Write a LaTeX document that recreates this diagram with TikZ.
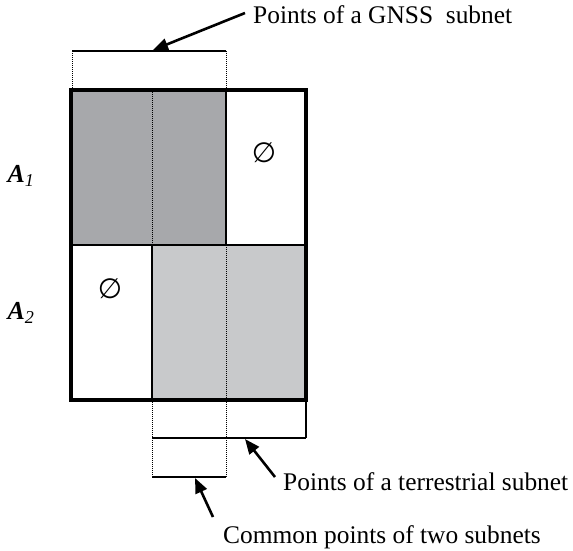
\documentclass[tikz,border=0pt]{standalone}
\usepackage{fontspec}
\setmainfont{Liberation Serif}
\newfontfamily\symfont{DejaVu Sans}
\usetikzlibrary{arrows.meta}
\definecolor{darkg}{HTML}{A7A8AB}
\definecolor{lightg}{HTML}{C8C9CB}
\begin{document}
\begin{tikzpicture}[x=1bp,y=-1bp,
  thickbox/.style={line width=3.5bp},
  inner/.style={line width=2.3bp},
  dots/.style={line width=1bp,densely dotted},
  thin/.style={line width=1.2bp},
  pointer/.style={line width=2.6bp,-{Triangle[length=15bp,width=12bp]}},
  lbl/.style={font=\fontsize{25.5}{30}\selectfont,inner sep=0pt},
  esym/.style={font=\symfont\fontsize{28}{32}\selectfont,inner sep=0pt},
  alab/.style={font=\fontsize{26}{30}\selectfont\bfseries\itshape,inner sep=0pt}]
\useasboundingbox (0,0) rectangle (573,551);
% fills
\fill[darkg] (71,90) rectangle (226,245);
\fill[lightg] (152,245) rectangle (306,400);
% inner lines
\draw[dots] (152,90) -- (152,245);
\draw[dots] (226,245) -- (226,400);
\draw[inner] (226,90) -- (226,245);
\draw[inner] (152,245) -- (152,400);
\draw[inner] (71,245) -- (306,245);
\draw[thickbox] (71,90) rectangle (306,400);
% top bracket
\draw[dots] (72,90) -- (72,51);
\draw[dots] (226,90) -- (226,51);
\draw[thin] (72,51) -- (226,51);
\coordinate (topmid) at (153,50);
% bottom brackets
\draw[dots] (152,400) -- (152,477);
\draw[dots] (226,400) -- (226,477);
\draw[thin] (306,400) -- (306,438);
\draw[thin] (152,438) -- (306,438);
\draw[thin] (152,477) -- (226,477);
\coordinate (terr) at (245,439);
\coordinate (comm) at (195,478);
\coordinate (gtail) at (245,13);
\coordinate (ttail) at (275,477);
\coordinate (ctail) at (213,517);
% empty sets
\node[esym] (e1) at (264,153) {∅};
\node[esym] (e2) at (110,289) {∅};
% row labels
\node[alab] (a1) at (21,176) {A\textsubscript{\mdseries\itshape 1}};
\node[alab] (a2) at (21,313) {A\textsubscript{\mdseries\itshape 2}};
% texts
\node[lbl,anchor=west] (tg) at (253,15) {Points of a GNSS\ \ subnet};
\node[lbl,anchor=west] (tt) at (283,482) {Points of a terrestrial subnet};
\node[lbl] (tc) at (382,537) {Common points of two subnets};
% arrows
\draw[pointer] (gtail) -- (topmid);
\draw[pointer] (ttail) -- (terr);
\draw[pointer] (ctail) -- (comm);
\end{tikzpicture}
\end{document}
